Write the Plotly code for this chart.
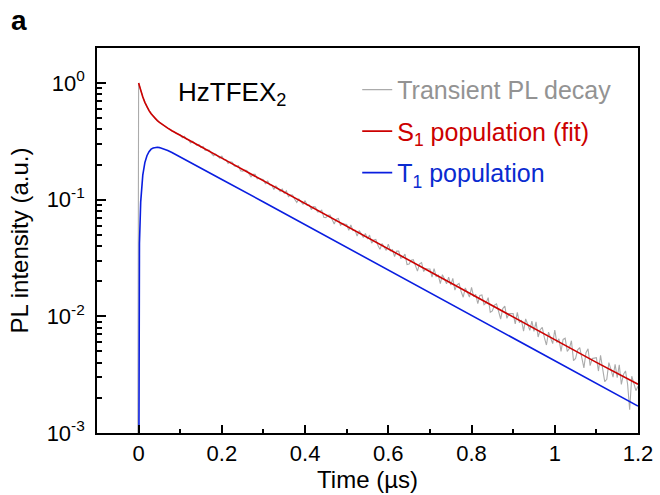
import numpy as np
import plotly.graph_objects as go

# ---------------- data ----------------
# S1 population (fit)
red_time = [0.0, 0.002, 0.005, 0.01, 0.015, 0.02, 0.025, 0.03, 0.035, 0.04, 0.045,
            0.05, 0.06, 0.07, 0.08, 0.1, 0.15, 0.2, 0.3, 0.4, 0.5, 0.6, 0.7, 0.8,
            0.9, 1.0, 1.1, 1.2]
red_values = [1.000, 0.940, 0.862, 0.759, 0.683, 0.625, 0.580, 0.545, 0.518, 0.495, 0.476,
              0.460, 0.432, 0.410, 0.390, 0.355, 0.284, 0.227, 0.145, 0.0926, 0.0592,
              0.0378, 0.0242, 0.0154, 0.00986, 0.00630, 0.00403, 0.00262]

# T1 population
blue_time = [0.0, 0.001, 0.002, 0.005, 0.01, 0.015, 0.02, 0.025, 0.03, 0.035, 0.04, 0.045,
             0.05, 0.06, 0.07, 0.08, 0.1, 0.15, 0.2, 0.3, 0.4, 0.5, 0.6, 0.7, 0.8, 0.9,
             1.0, 1.1, 1.2]
blue_values = [0.0001, 0.022, 0.0424, 0.0957, 0.162, 0.208, 0.238, 0.258, 0.271, 0.277,
               0.2805, 0.281, 0.2795, 0.273, 0.264, 0.254, 0.233, 0.187, 0.149, 0.0955,
               0.0610, 0.0390, 0.0249, 0.0159, 0.0102, 0.0065, 0.00416, 0.00266, 0.00170]

# Transient PL decay (log10 of intensity), sampled every 5 ns from t = 0
gray_pre_time = [-0.002, -0.001]
gray_pre_log10 = [-3.5, 0.0]
gray_log10 = [
    -0.000, -0.062, -0.121, -0.164, -0.206, -0.234, -0.265, -0.284, -0.307, -0.321,
    -0.339, -0.350, -0.366, -0.374, -0.389, -0.396, -0.411, -0.417, -0.432, -0.437,
    -0.444, -0.470, -0.457, -0.483, -0.487, -0.513, -0.500, -0.517, -0.535, -0.527,
    -0.553, -0.545, -0.578, -0.573, -0.577, -0.603, -0.623, -0.609, -0.626, -0.644,
    -0.627, -0.658, -0.658, -0.689, -0.675, -0.680, -0.712, -0.715, -0.708, -0.753,
    -0.756, -0.747, -0.750, -0.777, -0.804, -0.783, -0.783, -0.822, -0.817, -0.824,
    -0.829, -0.865, -0.838, -0.874, -0.874, -0.912, -0.883, -0.905, -0.929, -0.909,
    -0.945, -0.925, -0.974, -0.960, -0.960, -0.996, -1.023, -0.993, -1.015, -1.039,
    -1.008, -1.048, -1.044, -1.085, -1.060, -1.063, -1.105, -1.104, -1.090, -1.151,
    -1.154, -1.133, -1.132, -1.170, -1.208, -1.167, -1.161, -1.219, -1.204, -1.209,
    -1.213, -1.262, -1.217, -1.266, -1.261, -1.313, -1.265, -1.293, -1.324, -1.289,
    -1.338, -1.303, -1.372, -1.346, -1.341, -1.390, -1.426, -1.376, -1.404, -1.435,
    -1.381, -1.440, -1.428, -1.487, -1.441, -1.440, -1.502, -1.495, -1.466, -1.557,
    -1.552, -1.519, -1.514, -1.563, -1.612, -1.551, -1.539, -1.616, -1.591, -1.594,
    -1.594, -1.663, -1.591, -1.660, -1.647, -1.720, -1.643, -1.680, -1.722, -1.664,
    -1.733, -1.675, -1.775, -1.730, -1.718, -1.787, -1.836, -1.756, -1.793, -1.835,
    -1.752, -1.832, -1.811, -1.891, -1.821, -1.816, -1.900, -1.885, -1.840, -1.965,
    -1.954, -1.904, -1.893, -1.958, -2.023, -1.933, -1.912, -2.017, -1.977, -1.977,
    -1.976, -2.064, -1.965, -2.053, -2.033, -2.127, -2.022, -2.068, -2.120, -2.040,
    -2.128, -2.048, -2.177, -2.115, -2.095, -2.183, -2.246, -2.136, -2.182, -2.234,
    -2.117, -2.225, -2.192, -2.300, -2.198, -2.187, -2.301, -2.276, -2.209, -2.380,
    -2.361, -2.287, -2.268, -2.355, -2.442, -2.312, -2.279, -2.422, -2.362, -2.358,
    -2.355, -2.469, -2.334, -2.448, -2.560, -2.540, -2.397, -2.455, -2.521, -2.411,
    -2.525, -2.415, -2.584, -2.498, -2.468, -2.582, -2.800, -2.513, -2.571, -2.637,
    -2.600,
]
gray_step = 0.005

x_tick_vals = [0, 0.2, 0.4, 0.6, 0.8, 1.0, 1.2]
x_tick_text = ["0", "0.2", "0.4", "0.6", "0.8", "1", "1.2"]
x_minor_vals = [0.1, 0.3, 0.5, 0.7, 0.9, 1.1]
y_tick_vals = [0.001, 0.01, 0.1, 1]
y_tick_text = ["10<sup>-3</sup>", "10<sup>-2</sup>", "10<sup>-1</sup>", "10<sup>0</sup>"]
y_minor_vals = [0.002, 0.003, 0.004, 0.005, 0.006, 0.007, 0.008, 0.009,
                0.02, 0.03, 0.04, 0.05, 0.06, 0.07, 0.08, 0.09,
                0.2, 0.3, 0.4, 0.5, 0.6, 0.7, 0.8, 0.9, 2.0]

# ---------------- figure ----------------
gray_time = gray_pre_time + list(np.round(np.arange(len(gray_log10)) * gray_step, 4))
gray_values = 10 ** np.array(gray_pre_log10 + gray_log10)

FONT = "Liberation Sans, Arial, Helvetica, sans-serif"
X_RANGE = [-0.1, 1.2]
Y_RANGE = [-3, 0.3]

fig = go.Figure()
fig.add_trace(go.Scatter(
    x=gray_time, y=gray_values, mode="lines",
    line=dict(color="#ababab", width=1.1),
    name="<span style='color:#939393'>Transient PL decay</span>",
    legendgroup="g1"))
fig.add_trace(go.Scatter(
    x=red_time, y=red_values, mode="lines",
    line=dict(color="#cc0000", width=1.6),
    name="<span style='color:#cc0000'>S<sub>1</sub> population (fit)</span>",
    legendgroup="g2"))
fig.add_trace(go.Scatter(
    x=blue_time, y=blue_values, mode="lines",
    line=dict(color="#0a1ee0", width=1.6),
    name="<span style='color:#0a2bd0'>T<sub>1</sub> population</span>",
    legendgroup="g3"))
# carrier trace for the overlay axes that hold the short minor ticks
fig.add_trace(go.Scatter(x=[X_RANGE[0]], y=[1e-6], mode="lines", xaxis="x2", yaxis="y2",
                         showlegend=False, hoverinfo="skip"))

fig.update_layout(
    width=660, height=495,
    margin=dict(l=97, r=22, t=48, b=62),
    paper_bgcolor="white", plot_bgcolor="white",
    font=dict(family=FONT, size=22, color="black"),
    showlegend=True,
    legend=dict(x=0.481, y=0.951, xanchor="left", yanchor="top",
                bgcolor="rgba(0,0,0,0)", font=dict(size=25),
                tracegroupgap=6, itemwidth=30),
    annotations=[
        dict(text="<b>a</b>", x=-0.145, y=1.072, xref="paper", yref="paper",
             xanchor="center", yanchor="middle",
             showarrow=False, font=dict(size=28)),
        dict(text="HzTFEX<sub>2</sub>", x=0.25, y=0.883, xref="paper", yref="paper",
             showarrow=False, xanchor="center", yanchor="middle", font=dict(size=26)),
    ],
    xaxis=dict(
        range=X_RANGE, tickmode="array", tickvals=x_tick_vals, ticktext=x_tick_text,
        ticks="inside", ticklen=8, tickwidth=1.8, tickcolor="black",
        showline=True, linecolor="black", linewidth=1.6, mirror=True,
        showgrid=False, zeroline=False, automargin=False,
        ticklabelstandoff=0,
        title=dict(text="Time (µs)", standoff=6, font=dict(size=24)),
        tickfont=dict(size=22),
    ),
    yaxis=dict(
        type="log", range=Y_RANGE, tickmode="array", tickvals=y_tick_vals,
        ticktext=y_tick_text,
        ticks="inside", ticklen=9, tickwidth=1.8, tickcolor="black",
        showline=True, linecolor="black", linewidth=1.6, mirror=True,
        showgrid=False, zeroline=False, automargin=False,
        ticklabelstandoff=6,
        title=dict(text="PL intensity (a.u.)", standoff=11, font=dict(size=24)),
        tickfont=dict(size=22),
    ),
    xaxis2=dict(
        overlaying="x", anchor="y2", side="bottom", range=X_RANGE,
        tickmode="array", tickvals=x_minor_vals, ticks="inside", ticklen=4,
        tickwidth=1.8, tickcolor="black", showticklabels=False, showline=False,
        showgrid=False, zeroline=False, automargin=False,
    ),
    yaxis2=dict(
        overlaying="y", anchor="x2", side="left", type="log", range=Y_RANGE,
        tickmode="array", tickvals=y_minor_vals, ticks="inside", ticklen=5,
        tickwidth=1.5, tickcolor="black", showticklabels=False, showline=False,
        showgrid=False, zeroline=False, automargin=False,
    ),
)

fig.write_html("out.html",
               config={"displayModeBar": False},
               post_script="document.body.style.margin='0px';"
                           "document.body.style.overflow='hidden';")
